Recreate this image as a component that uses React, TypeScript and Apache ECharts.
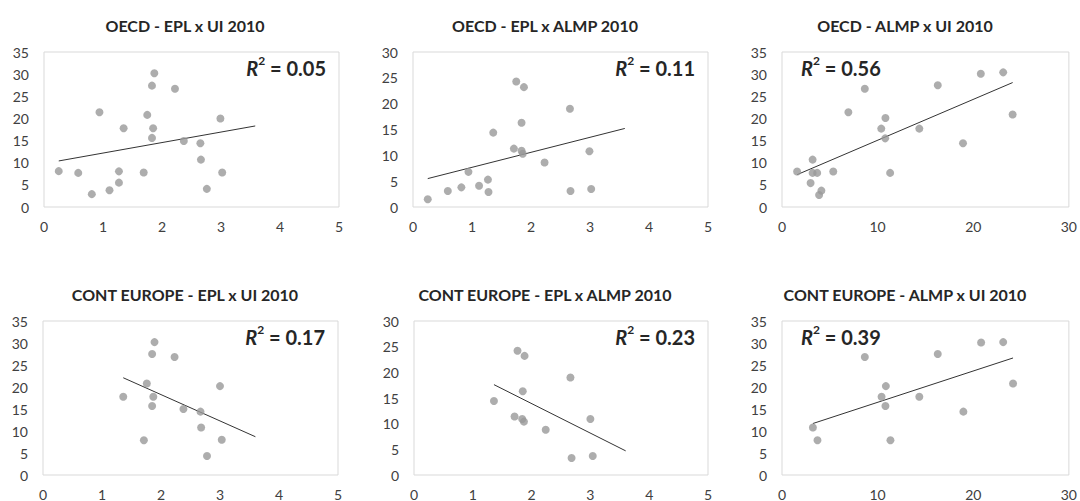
import React, { useEffect, useRef } from "react";
import * as echarts from "echarts";

// Panel titles
const titles = [
  "OECD - EPL x UI 2010",
  "OECD - EPL x ALMP 2010",
  "OECD - ALMP x UI 2010",
  "CONT EUROPE - EPL x UI 2010",
  "CONT EUROPE - EPL x ALMP 2010",
  "CONT EUROPE - ALMP x UI 2010",
];
const r2Values = ["0.05", "0.11", "0.56", "0.17", "0.23", "0.39"];

// Axis ranges
const xMax = [5, 5, 30, 5, 5, 30];
const xStep = [1, 1, 10, 1, 1, 10];
const yMax = [35, 30, 35, 35, 30, 35];
const yStep = [5, 5, 5, 5, 5, 5];

// Panel 1: OECD EPL x UI
const p1x = [0.25, 0.58, 0.81, 0.94, 1.11, 1.27, 1.27, 1.35, 1.69, 1.75, 1.83, 1.87, 1.83, 1.85, 2.22, 2.37, 2.65, 2.66, 2.76, 2.99, 3.02];
const p1y = [8.1, 7.7, 2.9, 21.4, 3.8, 8.05, 5.5, 17.8, 7.8, 20.8, 27.4, 30.2, 15.6, 17.8, 26.7, 14.9, 14.4, 10.7, 4.1, 20.0, 7.8];
const t1x = [0.25, 3.58];
const t1y = [10.4, 18.3];

// Panel 2: OECD EPL x ALMP
const p2x = [0.25, 0.59, 0.82, 0.94, 1.12, 1.27, 1.28, 1.36, 1.71, 1.75, 1.84, 1.84, 1.86, 1.88, 2.23, 2.66, 2.67, 2.99, 3.02];
const p2y = [1.5, 3.1, 3.8, 6.8, 4.1, 5.3, 2.9, 14.4, 11.3, 24.3, 10.9, 16.3, 10.3, 23.2, 8.6, 19.0, 3.1, 10.8, 3.5];
const t2x = [0.25, 3.59];
const t2y = [5.5, 15.2];

// Panel 3: OECD ALMP x UI
const p3x = [1.58, 2.99, 3.2, 3.2, 3.68, 3.88, 4.12, 5.36, 6.94, 8.66, 10.38, 10.82, 10.79, 11.31, 14.36, 16.29, 18.93, 20.79, 23.13, 24.12];
const p3y = [8.0, 5.4, 10.7, 7.7, 7.7, 2.7, 3.7, 8.0, 21.4, 26.7, 17.7, 20.1, 15.5, 7.7, 17.7, 27.5, 14.4, 30.1, 30.4, 20.9];
const t3x = [1.58, 24.12];
const t3y = [7.3, 28.1];

// Panel 4: CONT EUROPE EPL x UI
const p4x = [1.36, 1.71, 1.76, 1.85, 1.89, 1.85, 1.87, 2.23, 2.38, 2.67, 2.68, 2.78, 3.0, 3.03];
const p4y = [17.8, 7.9, 20.8, 27.5, 30.2, 15.7, 17.8, 26.8, 15.0, 14.4, 10.8, 4.3, 20.2, 8.0];
const t4x = [1.36, 3.6];
const t4y = [22.1, 8.7];

// Panel 5: CONT EUROPE EPL x ALMP
const p5x = [1.36, 1.71, 1.76, 1.84, 1.85, 1.87, 1.88, 2.24, 2.66, 2.68, 3.0, 3.04];
const p5y = [14.4, 11.4, 24.2, 10.9, 16.3, 10.4, 23.2, 8.8, 19.0, 3.3, 10.9, 3.7];
const t5x = [1.36, 3.6];
const t5y = [17.6, 4.7];

// Panel 6: CONT EUROPE ALMP x UI
const p6x = [3.23, 3.71, 8.66, 10.41, 10.86, 10.82, 11.34, 14.36, 16.29, 18.97, 20.82, 23.13, 24.16];
const p6y = [10.8, 7.9, 26.8, 17.8, 20.2, 15.7, 7.9, 17.8, 27.5, 14.4, 30.1, 30.2, 20.8];
const t6x = [3.23, 24.16];
const t6y = [11.7, 26.6];

const pointsX = [p1x, p2x, p3x, p4x, p5x, p6x];
const pointsY = [p1y, p2y, p3y, p4y, p5y, p6y];
const trendX = [t1x, t2x, t3x, t4x, t5x, t6x];
const trendY = [t1y, t2y, t3y, t4y, t5y, t6y];

// Layout (px)
const grids = [
  { left: 44, top: 52, width: 295, height: 155 },
  { left: 413, top: 52, width: 295, height: 155 },
  { left: 782, top: 52, width: 291, height: 155 },
  { left: 43, top: 321, width: 295, height: 155 },
  { left: 414, top: 321, width: 294, height: 155 },
  { left: 782, top: 321, width: 291, height: 155 },
];
const titleCenters = [180, 540, 900, 180, 540, 900];
const titleTops = [12, 12, 12, 281, 281, 281];
const r2Right = [true, true, false, true, true, false];

const FONT = "Lato, 'Open Sans', 'DejaVu Sans', sans-serif";

export default function App() {
  const ref = useRef<HTMLDivElement>(null);
  useEffect(() => {
    document.body.style.margin = "0";
    if (!ref.current) return;
    const chart = echarts.init(ref.current, undefined, { renderer: "svg" });

    const xAxis: any[] = [];
    const yAxis: any[] = [];
    const series: any[] = [];
    const title: any[] = [];

    for (let i = 0; i < 6; i++) {
      xAxis.push({
        type: "value",
        gridIndex: i,
        min: 0,
        max: xMax[i],
        interval: xStep[i],
        axisLine: { show: false },
        axisTick: { show: false },
        splitLine: { show: false },
        axisLabel: { color: "#404040", fontSize: 14, fontFamily: FONT, margin: 12 },
      });
      yAxis.push({
        type: "value",
        gridIndex: i,
        min: 0,
        max: yMax[i],
        interval: yStep[i],
        axisLine: { show: false },
        axisTick: { show: false },
        splitLine: { show: false },
        axisLabel: { color: "#404040", fontSize: 14, fontFamily: FONT, margin: 15 },
      });
      series.push({
        type: "scatter",
        xAxisIndex: i,
        yAxisIndex: i,
        symbolSize: 8,
        itemStyle: { color: "#999999" },
        data: pointsX[i].map((x, k) => [x, pointsY[i][k]]),
        z: 3,
      });
      series.push({
        type: "line",
        xAxisIndex: i,
        yAxisIndex: i,
        showSymbol: false,
        symbol: "none",
        lineStyle: { color: "#333333", width: 1 },
        data: trendX[i].map((x, k) => [x, trendY[i][k]]),
        z: 2,
      });
      title.push({
        text: titles[i],
        left: titleCenters[i],
        top: titleTops[i],
        textAlign: "center",
        textStyle: { fontSize: 16, fontWeight: "bold", color: "#262626", fontFamily: FONT },
      });
      const g = grids[i];
      const r2: any = {
        text: "{r|R}{s|2}{n| = " + r2Values[i] + "}",
        top: g.top - 3,
        textStyle: {
          rich: {
            r: { fontSize: 20, fontWeight: "bold", fontStyle: "italic", color: "#262626", fontFamily: FONT, verticalAlign: "bottom", lineHeight: 24 },
            s: { fontSize: 12, fontWeight: "bold", color: "#262626", fontFamily: FONT, verticalAlign: "top", lineHeight: 22 },
            n: { fontSize: 20, fontWeight: "bold", color: "#262626", fontFamily: FONT, verticalAlign: "bottom", lineHeight: 24 },
          },
        },
      };
      if (r2Right[i]) {
        r2.right = 1080 - (g.left + g.width) + 8;
      } else {
        r2.left = g.left + 14;
      }
      title.push(r2);
    }

    chart.setOption({
      animation: false,
      backgroundColor: "#ffffff",
      title,
      grid: grids.map((g) => ({ ...g, show: true, borderColor: "#d9d9d9", borderWidth: 1, backgroundColor: "transparent" })),
      xAxis,
      yAxis,
      series,
    });
    return () => chart.dispose();
  }, []);
  return <div ref={ref} style={{ width: 1080, height: 501 }} />;
}
